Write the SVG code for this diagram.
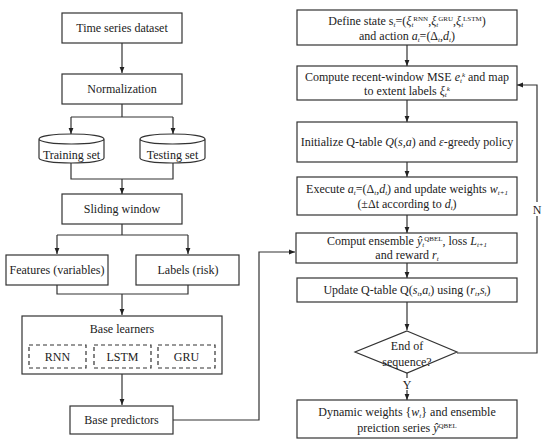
<svg xmlns="http://www.w3.org/2000/svg" width="550" height="446" viewBox="0 0 550 446">
<style>
.b{fill:#fff;stroke:#333;stroke-width:1.2}
.d{fill:#fff;stroke:#333;stroke-width:1.2;stroke-dasharray:4,3}
.t{font-family:"Liberation Serif","DejaVu Serif",serif;font-size:12px;fill:#222;text-anchor:middle}
.l{fill:none;stroke:#333;stroke-width:1.2}
.i{font-style:italic}
.s{font-size:7px}
</style>
<defs>
<marker id="ah" markerWidth="6" markerHeight="6" refX="6" refY="3" orient="auto" markerUnits="userSpaceOnUse"><path d="M0,0.6 L6,3 L0,5.4 z" fill="#222"/></marker>
</defs>
<rect width="550" height="446" fill="#fff"/>
<g id="connectors">
<path class="l" d="M122,43 V73" marker-end="url(#ah)"/>
<path class="l" d="M122,104 V117 M71,117 H173"/>
<path class="l" d="M71,117 V134" marker-end="url(#ah)"/>
<path class="l" d="M173,117 V134" marker-end="url(#ah)"/>
<path class="l" d="M71,163 V179 H173 V163"/>
<path class="l" d="M122,179 V194" marker-end="url(#ah)"/>
<path class="l" d="M122,224 V235 M57,235 H188"/>
<path class="l" d="M57,235 V254" marker-end="url(#ah)"/>
<path class="l" d="M188,235 V254" marker-end="url(#ah)"/>
<path class="l" d="M57,285 V294 H188 V285"/>
<path class="l" d="M122,294 V315" marker-end="url(#ah)"/>
<path class="l" d="M122,374 V405" marker-end="url(#ah)"/>
<path class="l" d="M173,420 H259 V252 H295" marker-end="url(#ah)"/>
<path class="l" d="M407,45 V66" marker-end="url(#ah)"/>
<path class="l" d="M407,100 V122" marker-end="url(#ah)"/>
<path class="l" d="M407,162 V177" marker-end="url(#ah)"/>
<path class="l" d="M407,215 V233" marker-end="url(#ah)"/>
<path class="l" d="M407,263 V278" marker-end="url(#ah)"/>
<path class="l" d="M407,302 V330" marker-end="url(#ah)"/>
<path class="l" d="M407,372 V400" marker-end="url(#ah)"/>
<path class="l" d="M457,353 H537 V85 H517" marker-end="url(#ah)"/>
<rect x="530" y="202" width="14" height="14" fill="#fff"/>
<text class="t" x="537" y="214">N</text>
<rect x="401" y="378" width="12" height="12" fill="#fff"/>
<text class="t" x="407" y="389">Y</text>
</g>
<g id="n-dataset"><rect class="b" x="62" y="13" width="120" height="30"/><text class="t" x="122" y="32">Time series dataset</text></g>
<g id="n-norm"><rect class="b" x="62" y="74" width="120" height="30"/><text class="t" x="122" y="93">Normalization</text></g>
<g id="n-train"><path class="b" d="M39,139 L39,158 A32.5,5 0 0 0 104,158 L104,139 A32.5,5 0 0 0 39,139 A32.5,5 0 0 0 104,139"/><text class="t" x="71.5" y="159">Training set</text></g>
<g id="n-test"><path class="b" d="M140,139 L140,158 A32.5,5 0 0 0 205,158 L205,139 A32.5,5 0 0 0 140,139 A32.5,5 0 0 0 205,139"/><text class="t" x="172.5" y="159">Testing set</text></g>
<g id="n-sliding"><rect class="b" x="62" y="194" width="120" height="30"/><text class="t" x="122" y="213">Sliding window</text></g>
<g id="n-features"><rect class="b" x="6" y="255" width="102" height="30"/><text class="t" x="57" y="274">Features (variables)</text></g>
<g id="n-labels"><rect class="b" x="136" y="255" width="103" height="30"/><text class="t" x="188" y="274">Labels (risk)</text></g>
<g id="n-base"><rect class="b" x="22" y="316" width="200" height="58"/><text class="t" x="122" y="333">Base learners</text>
<rect class="d" x="29" y="345" width="57" height="23"/><text class="t" x="57.5" y="361">RNN</text>
<rect class="d" x="94" y="345" width="57" height="23"/><text class="t" x="122.5" y="361">LSTM</text>
<rect class="d" x="158" y="345" width="57" height="23"/><text class="t" x="186.5" y="361">GRU</text></g>
<g id="n-pred"><rect class="b" x="70" y="406" width="103" height="28"/><text class="t" x="121.5" y="424">Base predictors</text></g>
<g id="n-define"><rect class="b" x="297" y="10" width="220" height="35"/>
<text class="t" x="407" y="25">Define state s<tspan class="s i" dy="2">t</tspan><tspan dy="-2">=(</tspan><tspan class="i">ξ</tspan><tspan class="s i" dy="2">t</tspan><tspan class="s" dy="-6">RNN</tspan><tspan dy="4">,</tspan><tspan class="i">ξ</tspan><tspan class="s i" dy="2">t</tspan><tspan class="s" dy="-6">GRU</tspan><tspan dy="4">,</tspan><tspan class="i">ξ</tspan><tspan class="s i" dy="2">t</tspan><tspan class="s" dy="-6">LSTM</tspan><tspan dy="4">)</tspan></text>
<text class="t" x="407" y="40">and action <tspan class="i">a</tspan><tspan class="s i" dy="2">t</tspan><tspan dy="-2">=(Δ</tspan><tspan class="s i" dy="2">t</tspan><tspan dy="-2">,</tspan><tspan class="i">d</tspan><tspan class="s i" dy="2">t</tspan><tspan dy="-2">)</tspan></text></g>
<g id="n-compute"><rect class="b" x="297" y="66" width="220" height="34"/>
<text class="t" x="407" y="81">Compute recent-window MSE <tspan class="i">e</tspan><tspan class="s i" dy="2">t</tspan><tspan class="s i" dy="-6">k</tspan><tspan dy="4"> and map</tspan></text>
<text class="t" x="407" y="95">to extent labels <tspan class="i">ξ</tspan><tspan class="s i" dy="2">t</tspan><tspan class="s i" dy="-6">k</tspan></text></g>
<g id="n-init"><rect class="b" x="297" y="122" width="220" height="40"/>
<text class="t" x="407" y="146">Initialize Q-table <tspan class="i">Q</tspan>(<tspan class="i">s</tspan>,<tspan class="i">a</tspan>) and <tspan class="i">ε</tspan>-greedy policy</text></g>
<g id="n-exec"><rect class="b" x="297" y="177" width="220" height="38"/>
<text class="t" x="407" y="193">Execute <tspan class="i">a</tspan><tspan class="s i" dy="2">t</tspan><tspan dy="-2">=(Δ</tspan><tspan class="s i" dy="2">t</tspan><tspan dy="-2">,</tspan><tspan class="i">d</tspan><tspan class="s i" dy="2">t</tspan><tspan dy="-2">) and update weights </tspan><tspan class="i">w</tspan><tspan class="s i" dy="2">t+1</tspan></text>
<text class="t" x="407" y="208">(±Δt according to <tspan class="i">d</tspan><tspan class="s i" dy="2">t</tspan><tspan dy="-2">)</tspan></text></g>
<g id="n-ens"><rect class="b" x="296" y="233" width="221" height="30"/>
<text class="t" x="407" y="245">Comput ensemble <tspan class="i">ŷ</tspan><tspan class="s i" dy="2">t</tspan><tspan class="s" dy="-6">QBEL</tspan><tspan dy="4">, loss </tspan><tspan class="i">L</tspan><tspan class="s i" dy="1.5">t+1</tspan></text>
<text class="t" x="407" y="259">and reward <tspan class="i">r</tspan><tspan class="s i" dy="1.5">t</tspan></text></g>
<g id="n-update"><rect class="b" x="297" y="278" width="220" height="24"/>
<text class="t" x="407" y="294">Update Q-table Q(<tspan class="i">s</tspan><tspan class="s i" dy="2">t</tspan><tspan dy="-2">,</tspan><tspan class="i">a</tspan><tspan class="s i" dy="2">t</tspan><tspan dy="-2">) using (</tspan><tspan class="i">r</tspan><tspan class="s i" dy="2">t</tspan><tspan dy="-2">,</tspan><tspan class="i">s</tspan><tspan class="s i" dy="2">t</tspan><tspan dy="-2">)</tspan></text></g>
<g id="n-end"><path class="b" d="M407,331 L457,352 L407,373 L355,352 z"/>
<text class="t" x="407" y="350">End of</text><text class="t" x="407" y="366">sequence?</text></g>
<g id="n-final"><rect class="b" x="297" y="400" width="220" height="38"/>
<text class="t" x="407" y="416">Dynamic weights {<tspan class="i">w</tspan><tspan class="s i" dy="2">t</tspan><tspan dy="-2">} and ensemble</tspan></text>
<text class="t" x="407" y="432">preiction series <tspan class="i">ŷ</tspan><tspan class="s" dy="-4">QBEL</tspan></text></g>
</svg>
